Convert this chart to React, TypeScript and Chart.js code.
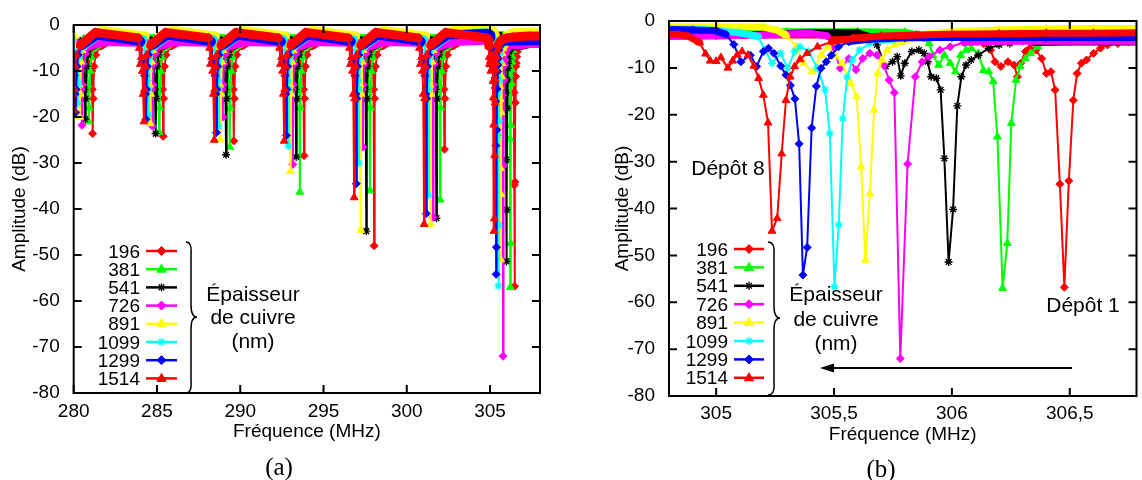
import React, { useEffect, useRef } from 'react';
import { Chart, registerables } from 'chart.js';

Chart.register(...registerables);

const FONT = "'Liberation Sans', Arial, sans-serif";
Chart.defaults.font.family = FONT;
Chart.defaults.color = '#000';

// Series: copper thickness (nm)
const seriesLabels = ['196', '381', '541', '726', '891', '1099', '1299', '1514'];
const seriesColors = ['#ff0000', '#00ff00', '#000000', '#ff00ff', '#ffff00', '#00ffff', '#0000ff', '#ff0000'];
const seriesMarkers = ['rectRot', 'triangle', 'star', 'rectRot', 'triangle', 'star', 'rectRot', 'triangle'];

const yTicks = [-80, -70, -60, -50, -40, -30, -20, -10, 0];
const xTicksA = [280, 285, 290, 295, 300, 305];
const xTicksB = [305, 305.5, 306, 306.5];

// ---- Panel (b): zoom 304.8 - 306.8 MHz (flat [x, y, x, y, ...]) ----
const b196 = [304.80,-3.0, 305.0,-3.0, 305.3,-3.0, 305.6,-3.0, 305.9,-3.1, 306.05,-3.6, 306.1,-4.2, 306.134,-4.8, 306.164,-6.2, 306.183,-8.7, 306.208,-9.7, 306.238,-8.7, 306.264,-9.4, 306.278,-11.9, 306.292,-9.0, 306.312,-6.5, 306.331,-5.8, 306.356,-6.2, 306.381,-8.0, 306.401,-11.2, 306.42,-10.8, 306.438,-14.7, 306.458,-34.8, 306.477,-56.8, 306.496,-34.1, 306.515,-16.9, 306.531,-11.2, 306.549,-9.0, 306.571,-8.3, 306.601,-6.9, 306.63,-5.8, 306.66,-5.1, 306.704,-4.8, 306.749,-4.4, 306.79,-4.1];
const b381 = [304.80,-2.3, 305.0,-2.3, 305.3,-2.3, 305.6,-2.3, 305.8,-2.4, 305.86,-3.0, 305.882,-3.7, 305.904,-4.8, 305.919,-7.3, 305.944,-9.4, 305.968,-7.3, 305.993,-9.0, 306.015,-10.8, 306.037,-7.3, 306.06,-6.2, 306.082,-5.8, 306.112,-6.9, 306.134,-10.5, 306.156,-10.8, 306.175,-12.9, 306.193,-24.7, 306.215,-57.0, 306.235,-47.4, 306.252,-21.8, 306.272,-12.6, 306.29,-9.7, 306.312,-8.0, 306.334,-6.9, 306.364,-5.5, 306.408,-4.6, 306.5,-3.6, 306.6,-3.0, 306.7,-2.6, 306.8,-2.4];
const b541 = [304.80,-3.2, 305.0,-3.0, 305.2,-2.8, 305.4,-2.5, 305.6,-2.5, 305.66,-3.5, 305.682,-5.1, 305.719,-9.7, 305.748,-8.7, 305.768,-7.6, 305.783,-11.7, 305.80,-9.0, 305.83,-6.5, 305.86,-6.2, 305.882,-6.9, 305.897,-8.7, 305.912,-11.9, 305.934,-12.2, 305.952,-14.7, 305.968,-29.3, 305.986,-51.4, 306.005,-40.2, 306.023,-18.1, 306.04,-11.9, 306.06,-9.4, 306.082,-8.3, 306.112,-7.3, 306.156,-5.8, 306.20,-5.1, 306.245,-4.8, 306.35,-4.6, 306.5,-4.5, 306.65,-4.5, 306.8,-4.5];
const b726 = [304.80,-3.3, 305.0,-3.2, 305.2,-3.0, 305.4,-2.6, 305.47,-3.2, 305.50,-6.0, 305.526,-10.1, 305.563,-8.0, 305.593,-10.4, 305.622,-8.0, 305.652,-6.9, 305.682,-7.3, 305.711,-9.4, 305.734,-12.6, 305.756,-15.3, 305.781,-72.0, 305.812,-30.5, 305.845,-11.9, 305.874,-8.7, 305.904,-7.6, 305.949,-6.2, 305.993,-5.5, 306.052,-4.6, 306.15,-4.4, 306.3,-4.3, 306.5,-4.3, 306.65,-4.3, 306.8,-4.3];
const b891 = [304.80,-1.2, 305.0,-1.2, 305.2,-1.3, 305.26,-2.0, 305.296,-3.0, 305.341,-5.5, 305.371,-9.0, 305.408,-10.8, 305.445,-7.3, 305.474,-5.5, 305.504,-7.3, 305.534,-9.0, 305.571,-13.3, 305.596,-16.1, 305.615,-31.1, 305.633,-51.0, 305.652,-36.8, 305.67,-19.0, 305.685,-11.2, 305.704,-8.3, 305.726,-6.2, 305.756,-5.1, 305.785,-4.4, 305.83,-3.7, 305.9,-2.8, 306.0,-2.3, 306.2,-1.9, 306.4,-1.7, 306.6,-1.6, 306.8,-1.6];
const b1099 = [304.80,-1.7, 304.95,-1.8, 305.10,-2.5, 305.15,-3.0, 305.178,-3.3, 305.207,-6.2, 305.237,-9.0, 305.274,-6.9, 305.304,-10.1, 305.333,-6.5, 305.356,-5.5, 305.393,-6.5, 305.43,-10.1, 305.462,-14.7, 305.482,-24.0, 305.502,-56.7, 305.52,-43.5, 305.537,-20.8, 305.556,-12.0, 305.578,-8.3, 305.608,-6.2, 305.652,-4.8, 305.70,-4.1, 305.8,-3.6, 306.0,-3.4, 306.2,-3.3, 306.4,-3.3, 306.6,-3.3, 306.8,-3.3];
const b1299 = [304.80,-1.8, 304.9,-1.9, 305.0,-2.1, 305.04,-2.8, 305.075,-5.0, 305.105,-8.7, 305.145,-7.3, 305.172,-9.7, 305.20,-6.5, 305.222,-5.8, 305.245,-6.9, 305.274,-9.6, 305.296,-11.5, 305.315,-13.7, 305.334,-16.6, 305.352,-26.2, 305.368,-54.2, 305.386,-48.3, 305.405,-22.8, 305.425,-13.9, 305.445,-10.1, 305.467,-8.7, 305.489,-7.3, 305.519,-5.5, 305.563,-4.4, 305.65,-3.9, 305.8,-3.6, 306.0,-3.5, 306.2,-3.5, 306.4,-3.5, 306.6,-3.5, 306.8,-3.5];
const b1514 = [304.80,-2.8, 304.84,-2.9, 304.88,-3.2, 304.93,-4.6, 304.955,-7.0, 304.975,-8.5, 305.0,-8.6, 305.02,-7.8, 305.05,-10.0, 305.07,-8.5, 305.09,-7.2, 305.11,-6.5, 305.135,-7.3, 305.16,-9.6, 305.18,-12.2, 305.20,-15.8, 305.22,-21.7, 305.237,-44.8, 305.259,-42.1, 305.278,-28.3, 305.296,-16.9, 305.314,-11.9, 305.333,-9.7, 305.356,-8.2, 305.385,-6.9, 305.43,-5.5, 305.49,-4.4, 305.58,-3.7, 305.70,-3.2, 305.85,-3.0, 306.0,-2.8, 306.2,-2.7, 306.4,-2.6, 306.6,-2.6, 306.8,-2.5];

// ---- Panel (a): full sweep 280 - 308 MHz, resonance groups 1-6 (group 7 = panel b data) ----
const a196 = [280.84,-3.6, 280.90,-8.5, 280.97,-9.5, 281.02,-6, 281.08,-10, 281.11,-14, 281.14,-23.6, 281.17,-16, 281.22,-9, 281.32,-6.5, 281.59,-4.5, 282.44,-2.6,
  285.07,-3.6, 285.13,-8.5, 285.20,-9.5, 285.25,-6, 285.31,-10, 285.34,-14, 285.37,-24.2, 285.40,-16, 285.45,-9, 285.55,-6.5, 285.82,-4.5, 286.67,-2.6,
  289.31,-3.6, 289.37,-8.5, 289.44,-9.5, 289.49,-6, 289.55,-10, 289.58,-14, 289.61,-25.2, 289.64,-16, 289.69,-9, 289.79,-6.5, 290.06,-4.5, 290.91,-2.6,
  293.53,-3.6, 293.59,-8.5, 293.66,-9.5, 293.71,-6, 293.77,-10, 293.80,-14, 293.83,-28.4, 293.86,-16, 293.91,-9, 294.01,-6.5, 294.28,-4.5, 295.13,-2.6,
  297.74,-3.6, 297.80,-8.5, 297.87,-9.5, 297.92,-6, 297.98,-10, 298.01,-14, 298.04,-48, 298.07,-16, 298.12,-9, 298.22,-6.5, 298.49,-4.5, 299.34,-2.6,
  301.96,-3.6, 302.02,-8.5, 302.09,-9.5, 302.14,-6, 302.20,-10, 302.23,-14, 302.26,-27, 302.29,-16, 302.34,-9, 302.44,-6.5, 302.71,-4.5, 303.56,-2.6];
const a381 = [280.60,-3.0, 280.66,-9, 280.74,-7, 280.80,-10, 280.86,-13, 280.90,-21, 280.93,-18, 280.98,-10, 281.05,-7, 281.35,-4.5, 282.20,-2.2,
  284.83,-3.0, 284.89,-9, 284.97,-7, 285.03,-10, 285.09,-13, 285.13,-23.3, 285.16,-18, 285.21,-10, 285.28,-7, 285.58,-4.5, 286.43,-2.2,
  289.07,-3.0, 289.13,-9, 289.21,-7, 289.27,-10, 289.33,-13, 289.37,-26.5, 289.40,-18, 289.45,-10, 289.52,-7, 289.82,-4.5, 290.67,-2.2,
  293.28,-3.0, 293.34,-9, 293.42,-7, 293.48,-10, 293.54,-13, 293.58,-36.3, 293.61,-18, 293.66,-10, 293.73,-7, 294.03,-4.5, 294.88,-2.2,
  297.49,-3.0, 297.55,-9, 297.63,-7, 297.69,-10, 297.75,-13, 297.79,-36, 297.82,-18, 297.87,-10, 297.94,-7, 298.24,-4.5, 299.09,-2.2,
  301.70,-3.0, 301.76,-9, 301.84,-7, 301.90,-10, 301.96,-13, 302.00,-38, 302.03,-18, 302.08,-10, 302.15,-7, 302.45,-4.5, 303.30,-2.2];
const a541 = [280.39,-3.4, 280.47,-9, 280.54,-7, 280.61,-11, 280.65,-14, 280.69,-20.5, 280.72,-16, 280.77,-9, 280.86,-6.5, 281.14,-4.5, 281.99,-2.6,
  284.62,-3.4, 284.70,-9, 284.77,-7, 284.84,-11, 284.88,-14, 284.92,-23.6, 284.95,-16, 285.00,-9, 285.09,-6.5, 285.37,-4.5, 286.22,-2.6,
  288.85,-3.4, 288.93,-9, 289.00,-7, 289.07,-11, 289.11,-14, 289.15,-28.2, 289.18,-16, 289.23,-9, 289.32,-6.5, 289.60,-4.5, 290.45,-2.6,
  293.06,-3.4, 293.14,-9, 293.21,-7, 293.28,-11, 293.32,-14, 293.36,-28.7, 293.39,-16, 293.44,-9, 293.53,-6.5, 293.81,-4.5, 294.66,-2.6,
  297.27,-3.4, 297.35,-9, 297.42,-7, 297.49,-11, 297.53,-14, 297.57,-44.8, 297.60,-16, 297.65,-9, 297.74,-6.5, 298.02,-4.5, 298.87,-2.6,
  301.48,-3.4, 301.56,-9, 301.63,-7, 301.70,-11, 301.74,-14, 301.78,-42, 301.81,-16, 301.86,-9, 301.95,-6.5, 302.23,-4.5, 303.08,-2.6];
const a726 = [280.20,-3.8, 280.25,-8, 280.32,-8.5, 280.40,-8, 280.46,-14, 280.50,-21.8, 280.53,-13, 280.58,-8.5, 280.70,-6.2, 280.95,-4.5, 281.80,-3.6,
  284.43,-3.8, 284.48,-8, 284.55,-8.5, 284.63,-8, 284.69,-14, 284.73,-22, 284.76,-13, 284.81,-8.5, 284.93,-6.2, 285.18,-4.5, 286.03,-3.6,
  288.65,-3.8, 288.70,-8, 288.77,-8.5, 288.85,-8, 288.91,-14, 288.95,-20, 288.98,-13, 289.03,-8.5, 289.15,-6.2, 289.40,-4.5, 290.25,-3.6,
  292.86,-3.8, 292.91,-8, 292.98,-8.5, 293.06,-8, 293.12,-14, 293.16,-30.3, 293.19,-13, 293.24,-8.5, 293.36,-6.2, 293.61,-4.5, 294.46,-3.6,
  297.07,-3.8, 297.12,-8, 297.19,-8.5, 297.27,-8, 297.33,-14, 297.37,-26.5, 297.40,-13, 297.45,-8.5, 297.57,-6.2, 297.82,-4.5, 298.67,-3.6,
  301.28,-3.8, 301.33,-8, 301.40,-8.5, 301.48,-8, 301.54,-14, 301.58,-41.8, 301.61,-13, 301.66,-8.5, 301.78,-6.2, 302.03,-4.5, 302.88,-3.6];
const a891 = [280.06,-2.4, 280.16,-5.5, 280.22,-9, 280.28,-7, 280.32,-13, 280.36,-20, 280.39,-15, 280.44,-8, 280.51,-5.5, 280.76,-3.8, 281.66,-1.2,
  284.29,-2.4, 284.39,-5.5, 284.45,-9, 284.51,-7, 284.55,-13, 284.59,-21.4, 284.62,-15, 284.67,-8, 284.74,-5.5, 284.99,-3.8, 285.89,-1.2,
  288.51,-2.4, 288.61,-5.5, 288.67,-9, 288.73,-7, 288.77,-13, 288.81,-24.9, 288.84,-15, 288.89,-8, 288.96,-5.5, 289.21,-3.8, 290.11,-1.2,
  292.72,-2.4, 292.82,-5.5, 292.88,-9, 292.94,-7, 292.98,-13, 293.02,-31.8, 293.05,-15, 293.10,-8, 293.17,-5.5, 293.42,-3.8, 294.32,-1.2,
  296.93,-2.4, 297.03,-5.5, 297.09,-9, 297.15,-7, 297.19,-13, 297.23,-44.6, 297.26,-15, 297.31,-8, 297.38,-5.5, 297.63,-3.8, 298.53,-1.2,
  301.13,-2.4, 301.23,-5.5, 301.29,-9, 301.35,-7, 301.39,-13, 301.43,-43.3, 301.46,-15, 301.51,-8, 301.58,-5.5, 301.83,-3.8, 302.73,-1.2];
const a1099 = [279.94,-3.2, 280.09,-7, 280.17,-6, 280.21,-12, 280.24,-17, 280.27,-13, 280.34,-7, 280.64,-4.4, 281.54,-2.0,
  284.17,-3.2, 284.32,-7, 284.40,-6, 284.44,-12, 284.47,-19.5, 284.50,-14, 284.57,-7, 284.87,-4.4, 285.77,-2.0,
  288.39,-3.2, 288.54,-7, 288.62,-6, 288.66,-12, 288.69,-22, 288.72,-14, 288.79,-7, 289.09,-4.4, 289.99,-2.0,
  292.59,-3.2, 292.74,-7, 292.82,-6, 292.86,-12, 292.89,-26.3, 292.92,-14, 292.99,-7, 293.29,-4.4, 294.19,-2.0,
  296.80,-3.2, 296.95,-7, 297.03,-6, 297.07,-12, 297.10,-30, 297.13,-14, 297.20,-7, 297.50,-4.4, 298.40,-2.0,
  301.00,-3.2, 301.15,-7, 301.23,-6, 301.27,-12, 301.30,-37, 301.33,-14, 301.40,-7, 301.70,-4.4, 302.60,-2.0];
const a1299 = [279.82,-3.6, 279.88,-8, 279.97,-8, 280.04,-11, 280.09,-15, 280.12,-19, 280.15,-14, 280.20,-9, 280.27,-6.5, 280.52,-4.4, 281.42,-2.2,
  284.04,-3.6, 284.10,-8, 284.19,-8, 284.26,-11, 284.31,-15, 284.34,-20.5, 284.37,-14, 284.42,-9, 284.49,-6.5, 284.74,-4.4, 285.64,-2.2,
  288.27,-3.6, 288.33,-8, 288.42,-8, 288.49,-11, 288.54,-15, 288.57,-23.4, 288.60,-14, 288.65,-9, 288.72,-6.5, 288.97,-4.4, 289.87,-2.2,
  292.47,-3.6, 292.53,-8, 292.62,-8, 292.69,-11, 292.74,-15, 292.77,-24, 292.80,-14, 292.85,-9, 292.92,-6.5, 293.17,-4.4, 294.07,-2.2,
  296.67,-3.6, 296.73,-8, 296.82,-8, 296.89,-11, 296.94,-15, 296.97,-34.5, 297.00,-16, 297.05,-9, 297.12,-6.5, 297.37,-4.4, 298.27,-2.2,
  300.87,-3.6, 300.93,-8, 301.02,-8, 301.09,-11, 301.14,-15, 301.17,-41, 301.20,-16, 301.25,-9, 301.32,-6.5, 301.57,-4.4, 302.47,-2.2];
const a1514 = [279.65,-2.8, 279.72,-5, 279.78,-8.5, 279.84,-7, 279.90,-10, 279.95,-15, 280.00,-18.5, 280.03,-14, 280.08,-9, 280.15,-6.5, 280.40,-4.4, 281.30,-1.6,
  283.87,-2.8, 283.94,-5, 284.00,-8.5, 284.06,-7, 284.12,-10, 284.17,-15, 284.22,-21, 284.25,-14, 284.30,-9, 284.37,-6.5, 284.62,-4.4, 285.52,-1.6,
  288.09,-2.8, 288.16,-5, 288.22,-8.5, 288.28,-7, 288.34,-10, 288.39,-15, 288.44,-25, 288.47,-14, 288.52,-9, 288.59,-6.5, 288.84,-4.4, 289.74,-1.6,
  292.29,-2.8, 292.36,-5, 292.42,-8.5, 292.48,-7, 292.54,-10, 292.59,-15, 292.64,-25.2, 292.67,-14, 292.72,-9, 292.79,-6.5, 293.04,-4.4, 293.94,-1.6,
  296.49,-2.8, 296.56,-5, 296.62,-8.5, 296.68,-7, 296.74,-10, 296.79,-15, 296.84,-37.5, 296.87,-16, 296.92,-9, 296.99,-6.5, 297.24,-4.4, 298.14,-1.6,
  300.69,-2.8, 300.76,-5, 300.82,-8.5, 300.88,-7, 300.94,-10, 300.99,-15, 301.04,-43.3, 301.07,-16, 301.12,-9, 301.19,-6.5, 301.44,-4.4, 302.34,-1.6];

// end of sweep (after the last resonance group)
const t196 = [307.4,-3.4, 308.3,-3.4];
const t381 = [307.4,-2.3, 308.3,-2.3];
const t541 = [307.4,-4.0, 308.3,-4.0];
const t726 = [307.4,-4.0, 308.3,-4.0];
const t891 = [307.4,-1.6, 308.3,-1.6];
const t1099 = [307.4,-3.2, 308.3,-3.2];
const t1299 = [307.4,-3.4, 308.3,-3.4];
const t1514 = [307.4,-2.4, 308.3,-2.4];

const panelB = [b196, b381, b541, b726, b891, b1099, b1299, b1514];
const panelA = [
  [...a196, ...b196, ...t196],
  [...a381, ...b381, ...t381],
  [...a541, ...b541, ...t541],
  [...a726, ...b726, ...t726],
  [...a891, ...b891, ...t891],
  [...a1099, ...b1099, ...t1099],
  [...a1299, ...b1299, ...t1299],
  [...a1514, ...b1514, ...t1514],
];

function toPoints(flat: number[]) {
  const out: { x: number; y: number }[] = [];
  for (let i = 0; i + 1 < flat.length; i += 2) out.push({ x: flat[i], y: flat[i + 1] });
  return out;
}

function makeDatasets(series: number[][], bandWidth: number) {
  return series.map((flat, i) => {
    const c = seriesColors[i];
    const m = seriesMarkers[i];
    return {
      label: seriesLabels[i],
      data: toPoints(flat),
      borderColor: c,
      backgroundColor: c,
      pointBackgroundColor: c,
      pointBorderColor: c,
      pointStyle: m,
      pointRadius: m === 'triangle' ? 4.5 : 4,
      pointBorderWidth: m === 'star' ? 1.4 : 1,
      borderWidth: 2,
      tension: 0,
      borderCapStyle: 'round',
      borderJoinStyle: 'round',
      order: 7 - i,
      segment: {
        borderWidth: (ctx: any) => (ctx.p0.parsed.y > -4.7 && ctx.p1.parsed.y > -4.7 ? bandWidth : 2),
      },
    };
  });
}

const framePlugin = {
  id: 'gnuframe',
  afterDatasetsDraw(chart: any) {
    const { ctx, chartArea } = chart;
    const { left, right, top, bottom } = chartArea;
    const xs = chart.scales.x;
    const ys = chart.scales.y;
    ctx.save();
    ctx.strokeStyle = '#000';
    ctx.lineWidth = 2;
    ctx.beginPath();
    for (const t of xs.ticks) {
      const px = xs.getPixelForValue(t.value);
      ctx.moveTo(px, bottom);
      ctx.lineTo(px, bottom - 8);
      ctx.moveTo(px, top);
      ctx.lineTo(px, top + 8);
    }
    for (const t of ys.ticks) {
      const py = ys.getPixelForValue(t.value);
      ctx.moveTo(left, py);
      ctx.lineTo(left + 8, py);
      ctx.moveTo(right, py);
      ctx.lineTo(right - 8, py);
    }
    ctx.stroke();
    ctx.strokeRect(left, top, right - left, bottom - top);
    ctx.restore();
  },
};

interface PanelCfg {
  series: number[][];
  xMin: number;
  xMax: number;
  xTicks: number[];
  comma: boolean;
  top: number;
  right: number;
  yWidth: number;
  xHeight: number;
  yTitlePad: number;
  xTitlePad: number;
  xTickPad: number;
  band: number;
}

function makeChart(canvas: HTMLCanvasElement, cfg: PanelCfg) {
  return new Chart(canvas, {
    type: 'line',
    data: { datasets: makeDatasets(cfg.series, cfg.band) as any },
    options: {
      responsive: false,
      animation: false,
      devicePixelRatio: 1,
      events: [],
      layout: { padding: { left: 0, top: cfg.top, right: cfg.right, bottom: 0 } },
      plugins: { legend: { display: false }, tooltip: { enabled: false } },
      scales: {
        x: {
          type: 'linear',
          min: cfg.xMin,
          max: cfg.xMax,
          grid: { display: false },
          border: { display: false },
          afterBuildTicks: (s: any) => {
            s.ticks = cfg.xTicks.map((v) => ({ value: v }));
          },
          afterFit: (s: any) => {
            s.height = cfg.xHeight;
          },
          ticks: {
            color: '#000',
            font: { size: 19 },
            padding: cfg.xTickPad,
            maxRotation: 0,
            autoSkip: false,
            callback: (v: any) => (cfg.comma ? String(v).replace('.', ',') : String(v)),
          },
          title: {
            display: true,
            text: 'Fréquence (MHz)',
            color: '#000',
            font: { size: 19 },
            padding: { top: 0, bottom: cfg.xTitlePad },
          },
        },
        y: {
          type: 'linear',
          min: -80,
          max: 0,
          grid: { display: false },
          border: { display: false },
          afterBuildTicks: (s: any) => {
            s.ticks = yTicks.map((v) => ({ value: v }));
          },
          afterFit: (s: any) => {
            s.width = cfg.yWidth;
          },
          ticks: {
            color: '#000',
            font: { size: 19 },
            padding: 6,
            autoSkip: false,
            callback: (v: any) => String(v),
          },
          title: {
            display: true,
            text: 'Amplitude (dB)',
            color: '#000',
            font: { size: 19 },
            padding: { top: cfg.yTitlePad, bottom: 0 },
          },
        },
      },
    } as any,
    plugins: [framePlugin],
  });
}

function Marker({ kind, cx, cy, color }: { kind: string; cx: number; cy: number; color: string }) {
  if (kind === 'rectRot') {
    return <polygon points={`${cx},${cy - 4.5} ${cx + 4.5},${cy} ${cx},${cy + 4.5} ${cx - 4.5},${cy}`} fill={color} stroke={color} strokeWidth={1} />;
  }
  if (kind === 'triangle') {
    return <polygon points={`${cx},${cy - 5} ${cx + 4.6},${cy + 3} ${cx - 4.6},${cy + 3}`} fill={color} stroke={color} strokeWidth={1} />;
  }
  const r = 4;
  const d = r * 0.707;
  return (
    <g stroke={color} strokeWidth={1.4}>
      <line x1={cx - r} y1={cy} x2={cx + r} y2={cy} />
      <line x1={cx} y1={cy - r} x2={cx} y2={cy + r} />
      <line x1={cx - d} y1={cy - d} x2={cx + d} y2={cy + d} />
      <line x1={cx - d} y1={cy + d} x2={cx + d} y2={cy - d} />
    </g>
  );
}

function Legend({ right, x0, x1, rows, brace, textX, textRows }: { right: number; x0: number; x1: number; rows: number[]; brace: string; textX: number; textRows: number[] }) {
  const cx = (x0 + x1) / 2;
  return (
    <g>
      {seriesLabels.map((lab, i) => (
        <g key={lab}>
          <text x={right} y={rows[i]} textAnchor="end" dominantBaseline="central" fontSize={19} fill="#000">{lab}</text>
          <line x1={x0} y1={rows[i]} x2={x1} y2={rows[i]} stroke={seriesColors[i]} strokeWidth={2.5} />
          <Marker kind={seriesMarkers[i]} cx={cx} cy={rows[i]} color={seriesColors[i]} />
        </g>
      ))}
      <path d={brace} fill="none" stroke="#000" strokeWidth={1.5} />
      <text x={textX} y={textRows[0]} textAnchor="middle" dominantBaseline="central" fontSize={21} fill="#000">Épaisseur</text>
      <text x={textX} y={textRows[1]} textAnchor="middle" dominantBaseline="central" fontSize={21} fill="#000">de cuivre</text>
      <text x={textX} y={textRows[2]} textAnchor="middle" dominantBaseline="central" fontSize={21} fill="#000">(nm)</text>
    </g>
  );
}

const legendRowsA = [251, 269.2, 287.4, 305.6, 323.8, 342, 360.2, 378.4];
const legendRowsB = [249, 267.4, 285.8, 304.2, 322.6, 341, 359.4, 377.8];

export default function App() {
  const refA = useRef<HTMLCanvasElement>(null);
  const refB = useRef<HTMLCanvasElement>(null);

  useEffect(() => {
    const ca = makeChart(refA.current as HTMLCanvasElement, {
      series: panelA,
      xMin: 280,
      xMax: 308,
      xTicks: xTicksA,
      comma: false,
      top: 25,
      right: 20,
      yWidth: 73.7,
      xHeight: 87,
      yTitlePad: 8,
      xTitlePad: 37,
      xTickPad: -1,
      band: 9,
    });
    const cb = makeChart(refB.current as HTMLCanvasElement, {
      series: panelB,
      xMin: 304.8,
      xMax: 306.783,
      xTicks: xTicksB,
      comma: true,
      top: 21,
      right: 2,
      yWidth: 87,
      xHeight: 84,
      yTitlePad: 29.5,
      xTitlePad: 34,
      xTickPad: -2,
      band: 7,
    });
    return () => {
      ca.destroy();
      cb.destroy();
    };
  }, []);

  return (
    <div style={{ position: 'absolute', left: 0, top: 0, width: 1142, height: 480, overflow: 'hidden', background: '#fff', fontFamily: FONT }}>
      <canvas ref={refA} width={560} height={480} style={{ position: 'absolute', left: 0, top: 0, width: 560, height: 480 }} />
      <canvas ref={refB} width={560} height={480} style={{ position: 'absolute', left: 582, top: 0, width: 560, height: 480 }} />
      <svg width={1142} height={480} style={{ position: 'absolute', left: 0, top: 0, pointerEvents: 'none' }} fontFamily={FONT}>
        <Legend
          right={140}
          x0={146}
          x1={177}
          rows={legendRowsA}
          brace="M186,242 Q192,242 191,254 L191,305 Q191,317 197,317 Q191,317 191,329 L191,381 Q192,393 186,393"
          textX={253}
          textRows={[293, 316, 340]}
        />
        <Legend
          right={728}
          x0={734}
          x1={764}
          rows={legendRowsB}
          brace="M768,242 Q775,242 774,254 L774,306 Q774,318 780,318 Q774,318 774,330 L774,383 Q775,395 768,395"
          textX={836}
          textRows={[293, 318, 342]}
        />
        <text x={728} y={167} textAnchor="middle" dominantBaseline="central" fontSize={21} fill="#000">Dépôt 8</text>
        <text x={1083} y={304} textAnchor="middle" dominantBaseline="central" fontSize={21} fill="#000">Dépôt 1</text>
        <line x1={1072} y1={368} x2={828} y2={368} stroke="#000" strokeWidth={2} />
        <polygon points="820,368 834,363.5 834,372.5" fill="#000" />
        <text x={279} y={466} textAnchor="middle" dominantBaseline="central" fontSize={25} fill="#000" fontFamily="'Liberation Serif', serif">(a)</text>
        <text x={881} y={468} textAnchor="middle" dominantBaseline="central" fontSize={25} fill="#000" fontFamily="'Liberation Serif', serif">(b)</text>
      </svg>
    </div>
  );
}
